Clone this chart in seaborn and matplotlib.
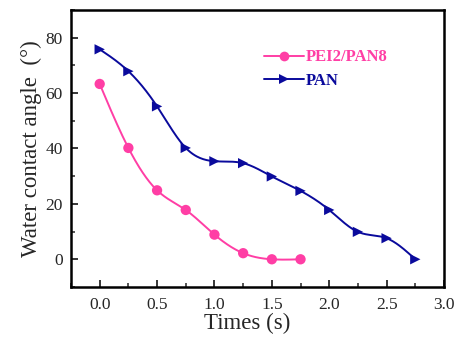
import numpy as np
import pandas as pd
import seaborn as sns
import matplotlib
matplotlib.use("Agg")
import matplotlib.pyplot as plt
from matplotlib.ticker import MultipleLocator

# Contact angle measurements over time
time_pei = [0.0, 0.25, 0.5, 0.75, 1.0, 1.25, 1.5, 1.75]
angle_pei = [63.3, 40.2, 24.9, 17.8, 8.9, 2.2, 0.0, 0.0]

time_pan = [0.0, 0.25, 0.5, 0.75, 1.0, 1.25, 1.5, 1.75, 2.0, 2.25, 2.5, 2.75]
angle_pan = [75.8, 67.9, 55.2, 40.2, 35.4, 34.7, 29.9, 24.7, 17.8, 9.9, 7.6, 0.0]

series_names = ["PEI2/PAN8", "PAN"]
colors = {"PEI2/PAN8": "#FF3EA5", "PAN": "#0A0A9C"}
markers = {"PEI2/PAN8": "o", "PAN": ">"}


def natural_spline(x, y, n=300):
    """Natural cubic spline through (x, y), evaluated on a dense grid."""
    x = np.asarray(x, float)
    y = np.asarray(y, float)
    k = len(x)
    h = np.diff(x)
    A = np.zeros((k, k))
    b = np.zeros(k)
    A[0, 0] = A[-1, -1] = 1.0
    for i in range(1, k - 1):
        A[i, i - 1] = h[i - 1]
        A[i, i] = 2 * (h[i - 1] + h[i])
        A[i, i + 1] = h[i]
        b[i] = 3 * ((y[i + 1] - y[i]) / h[i] - (y[i] - y[i - 1]) / h[i - 1])
    c = np.linalg.solve(A, b)
    bb = (np.diff(y) / h) - h * (2 * c[:-1] + c[1:]) / 3
    d = np.diff(c) / (3 * h)
    xs = np.linspace(x[0], x[-1], n)
    idx = np.clip(np.searchsorted(x, xs, side="right") - 1, 0, k - 2)
    dx = xs - x[idx]
    ys = y[idx] + bb[idx] * dx + c[idx] * dx ** 2 + d[idx] * dx ** 3
    return xs, ys


points = pd.concat([
    pd.DataFrame({"Time": time_pei, "Angle": angle_pei, "Sample": "PEI2/PAN8"}),
    pd.DataFrame({"Time": time_pan, "Angle": angle_pan, "Sample": "PAN"}),
])

curves = []
for name, tx, ay in [("PEI2/PAN8", time_pei, angle_pei), ("PAN", time_pan, angle_pan)]:
    xs, ys = natural_spline(tx, ay)
    curves.append(pd.DataFrame({"Time": xs, "Angle": ys, "Sample": name}))
curves = pd.concat(curves)

sns.set_style("ticks")
plt.rcParams["font.family"] = ["Liberation Serif", "DejaVu Serif"]

fig = plt.figure(figsize=(4.68, 3.41), dpi=100)
ax = fig.add_axes([0.1517, 0.1584, 0.797, 0.8123])

sns.lineplot(data=curves, x="Time", y="Angle", hue="Sample", hue_order=series_names,
             palette=colors, linewidth=1.4, legend=False, ax=ax, sort=False,
             estimator=None)
sns.scatterplot(data=points, x="Time", y="Angle", hue="Sample", style="Sample",
                hue_order=series_names, style_order=series_names,
                palette=colors, markers=markers, s=55, linewidth=0,
                legend=False, ax=ax, zorder=3)

# Legend handles with line + marker
handles = [plt.Line2D([], [], color=colors[n], marker=markers[n], markersize=7,
                      markeredgewidth=0, linewidth=1.4) for n in series_names]
leg = ax.legend(handles, series_names, loc="upper left", bbox_to_anchor=(0.476, 0.912),
                frameon=False, handlelength=2.4, handletextpad=0.15,
                labelspacing=0.45, prop={"weight": "bold", "size": 12})
for text, n in zip(leg.get_texts(), series_names):
    text.set_color(colors[n])

ax.set_xlim(-0.25, 3.0)
ax.set_ylim(-10, 90)
ax.xaxis.set_major_locator(MultipleLocator(0.5))
ax.xaxis.set_minor_locator(MultipleLocator(0.25))
ax.yaxis.set_major_locator(MultipleLocator(20))
ax.yaxis.set_minor_locator(MultipleLocator(10))
ax.set_xticks(np.arange(0, 3.01, 0.5))
ax.set_xticklabels([f"{v:.1f}" for v in np.arange(0, 3.01, 0.5)])

ax.tick_params(which="both", direction="in", top=False, right=False, labelsize=12.5)
ax.tick_params(axis="x", which="major", pad=7)
ax.tick_params(axis="y", which="major", pad=6)
ax.tick_params(which="major", length=5, width=1.3)
ax.tick_params(which="minor", length=3, width=1.1)
for sp in ax.spines.values():
    sp.set_linewidth(1.8)
    sp.set_color("black")

ax.set_xlabel("Times (s)", fontsize=16.5)
ax.xaxis.set_label_coords(0.472, -0.095)
ax.set_ylabel("Water contact angle  (°)", fontsize=16.5)
ax.yaxis.set_label_coords(-0.078, 0.5)

fig.savefig("out.png", dpi=100)
